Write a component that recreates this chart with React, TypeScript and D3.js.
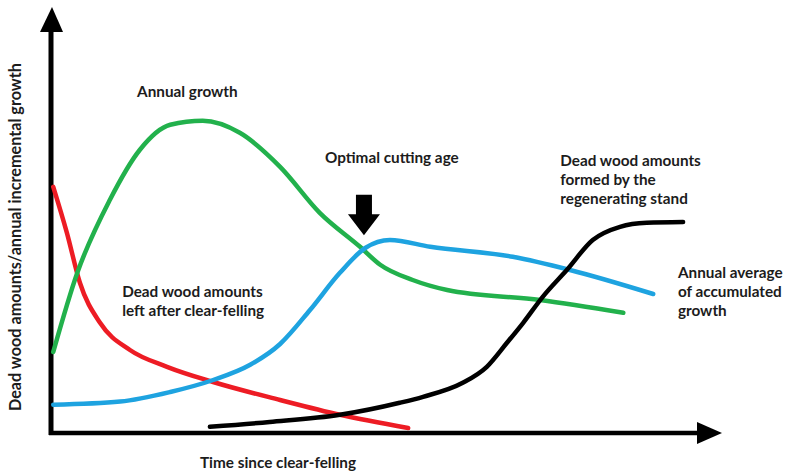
import { useEffect, useRef } from 'react'
import * as d3 from 'd3'

const W = 786
const H = 474

// curves, x = time (0-100), y = amount (0-100)
const growthX = [0.5, 4.2, 9.2, 13.8, 18.5, 23.5, 29.2, 35.4, 41.5, 47.7, 50.8, 55.8, 61.1, 75.4, 88.2]
const growthY = [20, 39.8, 58, 70.5, 76.8, 77.8, 74.8, 66.3, 54.8, 46.3, 41.8, 38, 35.5, 33, 29.8]

const averageX = [0.5, 10.8, 18.5, 25.1, 30.8, 35.4, 40, 44.6, 48.5, 52.3, 58.5, 71.2, 80, 92.8]
const averageY = [6.8, 7.6, 10, 13, 16.8, 22, 30.5, 39.8, 46, 48, 46.3, 43.8, 40.5, 34.5]

const leftX = [0.5, 2.6, 4.6, 7.7, 12.3, 18, 25.1, 35.4, 44.6, 55.1]
const leftY = [61.3, 49.8, 37.3, 27.3, 20.5, 16.3, 12.5, 8, 4.3, 1]

const formedX = [24.6, 33.8, 44.6, 53.8, 57.4, 63.5, 67.2, 70.3, 72.8, 75.8, 79.5, 83.5, 87.7, 91.8, 97.4]
const formedY = [1.3, 2.5, 4.3, 7.3, 8.8, 12.3, 16.3, 22.3, 27.3, 33.8, 40.5, 48, 51.3, 52.3, 52.5]

const SERIES = [
  { xs: leftX, ys: leftY, color: '#ed1c24' },
  { xs: growthX, ys: growthY, color: '#22b14c' },
  { xs: averageX, ys: averageY, color: '#1ea3e0' },
  { xs: formedX, ys: formedY, color: '#000000' },
]

// optimal cutting age marker
const cutX = 48.3
const cutTop = 59.3
const cutTip = 49.2

const LABELS = [
  { x: 13.4, y: 83.8, lines: ['Annual growth'] },
  { x: 42.3, y: 67.3, lines: ['Optimal cutting age'] },
  { x: 78.5, y: 66.5, lines: ['Dead wood amounts', 'formed by the', 'regenerating stand'] },
  { x: 96.6, y: 38.5, lines: ['Annual average', 'of accumulated', 'growth'] },
  { x: 11.1, y: 33.8, lines: ['Dead wood amounts', 'left after clear-felling'] },
]

const X_TITLE = 'Time since clear-felling'
const Y_TITLE = 'Dead wood amounts/annual incremental growth'

export default function App() {
  const svgRef = useRef<SVGSVGElement>(null)

  useEffect(() => {
    if (!svgRef.current) return
    const svg = d3.select(svgRef.current)
    svg.selectAll('*').remove()

    const x = d3.scaleLinear().domain([0, 100]).range([50, 700])
    const y = d3.scaleLinear().domain([0, 100]).range([432, 32])
    const font = "Lato, 'Open Sans', sans-serif"

    // axes with arrow heads
    svg.append('line').attr('x1', 51).attr('y1', 435).attr('x2', 51).attr('y2', 30)
      .attr('stroke', '#000').attr('stroke-width', 5)
    svg.append('path').attr('d', 'M40,32 L52,7 L63,32 Z').attr('fill', '#000')
    svg.append('line').attr('x1', 49).attr('y1', 433).attr('x2', 700).attr('y2', 433)
      .attr('stroke', '#000').attr('stroke-width', 4.5)
    svg.append('path').attr('d', 'M697,422 L722,433 L697,444 Z').attr('fill', '#000')

    const line = d3.line<[number, number]>()
      .x(d => x(d[0])).y(d => y(d[1]))
      .curve(d3.curveMonotoneX)

    SERIES.forEach(s => {
      const pts = s.xs.map((v, i) => [v, s.ys[i]] as [number, number])
      svg.append('path').attr('d', line(pts) ?? '')
        .attr('fill', 'none').attr('stroke', s.color).attr('stroke-width', 4.5)
        .attr('stroke-linecap', 'round').attr('stroke-linejoin', 'round')
    })

    // arrow pointing at the optimal cutting age
    const cx = x(cutX)
    const yTop = y(cutTop), yTip = y(cutTip)
    const headY = yTip - 21
    svg.append('path')
      .attr('d', `M${cx - 8},${yTop} L${cx + 8},${yTop} L${cx + 8},${headY} L${cx + 16},${headY} L${cx},${yTip} L${cx - 16},${headY} L${cx - 8},${headY} Z`)
      .attr('fill', '#000')

    LABELS.forEach(l => {
      const t = svg.append('text').attr('x', x(l.x)).attr('y', y(l.y))
        .attr('font-family', font).attr('font-weight', 700).attr('font-size', 15.3)
        .attr('fill', '#1c1c1c')
      l.lines.forEach((s, i) => {
        t.append('tspan').attr('x', x(l.x)).attr('dy', i === 0 ? 0 : 19).text(s)
      })
    })

    svg.append('text').attr('x', 278).attr('y', 468).attr('text-anchor', 'middle')
      .attr('font-family', font).attr('font-weight', 700).attr('font-size', 15.3)
      .attr('fill', '#1c1c1c').text(X_TITLE)

    svg.append('text').attr('transform', 'translate(21,237) rotate(-90)')
      .attr('text-anchor', 'middle')
      .attr('font-family', font).attr('font-weight', 700).attr('font-size', 16.2)
      .attr('fill', '#1c1c1c').text(Y_TITLE)
  }, [])

  return (
    <svg ref={svgRef} width={W} height={H}
      style={{ position: 'absolute', left: 0, top: 0, background: '#fff' }} />
  )
}
